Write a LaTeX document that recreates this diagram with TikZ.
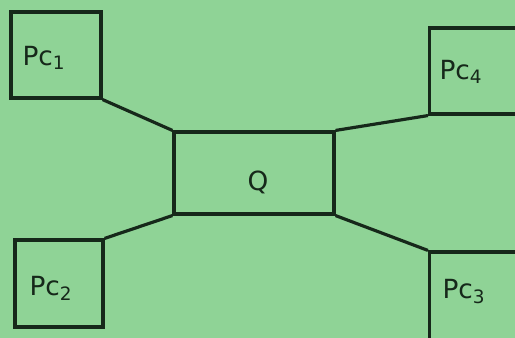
\documentclass[tikz,border=0pt]{standalone}
\usepackage{fontspec}
\setmainfont{DejaVu Sans}
\usetikzlibrary{positioning,calc}
\definecolor{paper}{RGB}{143,211,150}
\definecolor{ink}{RGB}{22,40,26}

\begin{document}
\begin{tikzpicture}[x=0.02cm,y=-0.02cm]
  \tikzstyle{box}=[draw=ink,line width=1.8pt,inner sep=0pt]
  \tikzstyle{lbl}=[text=ink,font=\fontsize{15}{18}\selectfont,inner sep=0pt]
  \tikzstyle{link}=[draw=ink,line width=1.8pt]
  \fill[paper] (0,0) rectangle (515,338);
  \useasboundingbox (0,0) rectangle (515,338);
  \clip (0,0) rectangle (515,338);
  % boxes
  \node[box,minimum width=1.8cm,minimum height=1.72cm] (pc1) at (56,55) {};
  \node[box,minimum width=1.76cm,minimum height=1.74cm] (pc2) at (59,283.5) {};
  \node[box,minimum width=3.2cm,minimum height=1.64cm] (q) at (254,173) {};
  \node[box,minimum width=1.9cm,minimum height=1.72cm] (pc4) at (477,71) {};
  \node[box,minimum width=1.9cm,minimum height=1.8cm] (pc3) at (477,297) {};
  % labels
  \node[lbl] (pc1txt) at (44,58) {Pc\textsubscript{1}};
  \node[lbl] (pc2txt) at (51,288) {Pc\textsubscript{2}};
  \node[lbl] (qtxt) at (258,182) {Q};
  \node[lbl] (pc4txt) at (461,72) {Pc\textsubscript{4}};
  \node[lbl] (pc3txt) at (464,292) {Pc\textsubscript{3}};
  % links
  \draw[link] (pc1.south east) -- (q.north west);
  \draw[link] (pc2.north east) -- (q.south west);
  \draw[link] (q.north east) -- (pc4.south west);
  \draw[link] (q.south east) -- (pc3.north west);
\end{tikzpicture}
\end{document}
